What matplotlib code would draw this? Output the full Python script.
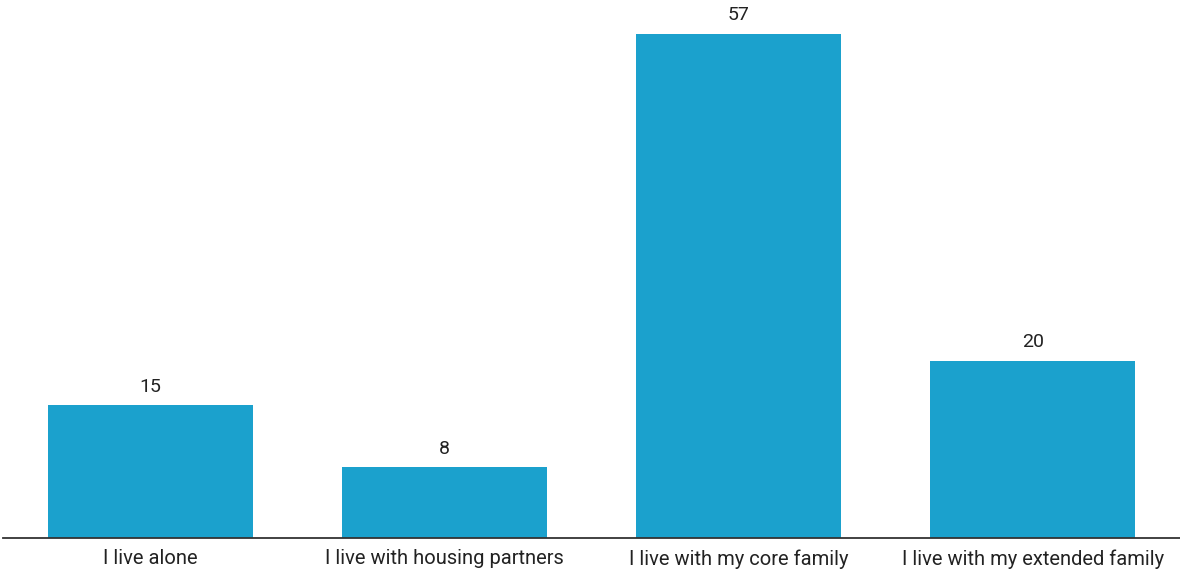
import matplotlib
matplotlib.use("Agg")
import matplotlib.pyplot as plt

categories = ["I live alone", "I live with housing partners",
              "I live with my core family", "I live with my extended family"]
values = [15, 8, 57, 20]

plt.rcParams['font.family'] = ['Roboto', 'DejaVu Sans']

fig = plt.figure(figsize=(11.8, 5.7), dpi=100)
ax = fig.add_axes([3/1180, 32/570, 1177/1180, 504/570])

x = range(len(categories))
bars = ax.bar(x, values, width=0.697, color="#1ba1cd")
for b, v in zip(bars, values):
	ax.text(b.get_x() + b.get_width()/2, v + 1.1, str(v),
		ha="center", va="bottom", fontsize=14, color="#222222")

ax.set_xlim(-0.5, 3.5)
ax.set_ylim(0, 57)
ax.set_xticks(list(x))
ax.set_xticklabels(categories, fontsize=14.5, color="#222222")
ax.tick_params(axis="x", length=0, pad=8)
ax.set_yticks([])
for s in ("top", "right", "left"):
	ax.spines[s].set_visible(False)
ax.spines["bottom"].set_color("#333333")
ax.spines["bottom"].set_linewidth(1.3)

fig.savefig("out.png", dpi=100)
